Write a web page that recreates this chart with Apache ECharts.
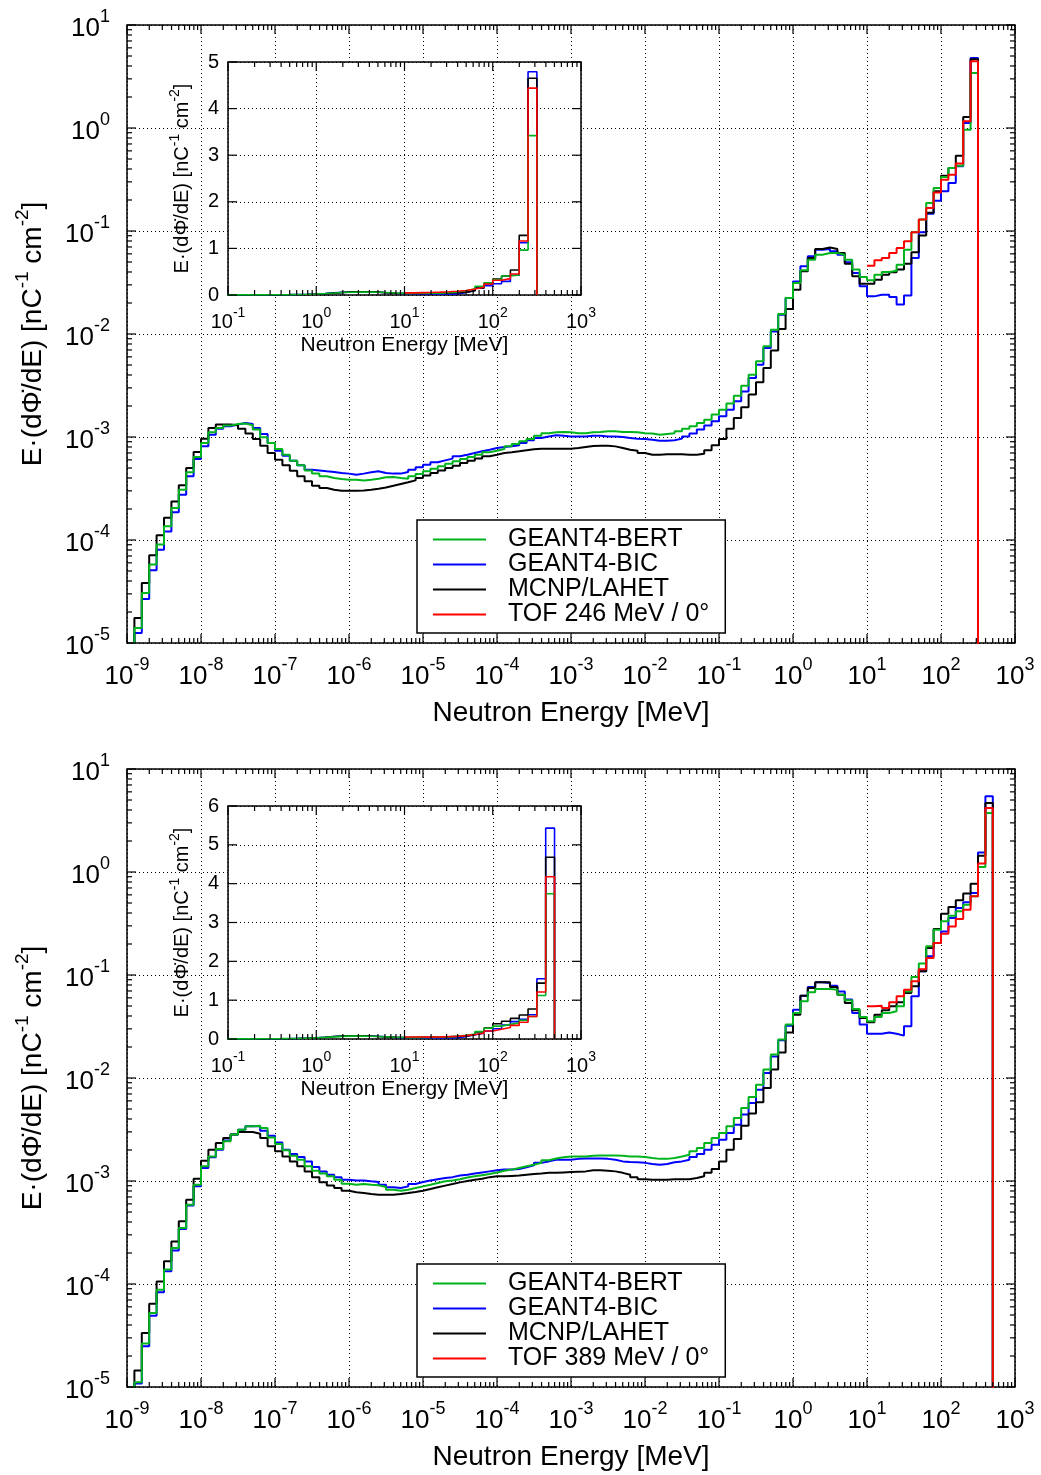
<!DOCTYPE html>
<html><head><meta charset="utf-8">
<script src="https://cdn.jsdelivr.net/npm/echarts@6/dist/echarts.min.js"></script>
<style>html,body{margin:0;padding:0;background:#fff}#c{width:1041px;height:1475px}</style>
</head><body><div id="c"></div>
<script>
// ---------- bins: 10 log-uniform bins per decade, edge k = 10^(-9 + k/10) ----------
const BIN_MANTISSA = [1, 1.2589, 1.5849, 1.9953, 2.5119, 3.1623, 3.9811, 5.0119, 6.3096, 7.9433];
const BIN_DECADES = [-9, -8, -7, -6, -5, -4, -3, -2, -1, 0, 1, 2];

// ---------- top panel (246 MeV), values for bins k = 1 .. 114 ----------
const topBert = [
1.40e-5,3.05e-5,5.77e-5,9.02e-5,1.36e-4,2.05e-4,3.08e-4,4.54e-4,6.40e-4,8.75e-4,
1.11e-3,1.22e-3,1.29e-3,1.34e-3,1.35e-3,1.30e-3,1.18e-3,9.93e-4,8.75e-4,7.64e-4,
6.73e-4,5.89e-4,5.31e-4,4.74e-4,4.41e-4,4.15e-4,4.00e-4,3.91e-4,3.85e-4,3.85e-4,
3.79e-4,3.85e-4,3.94e-4,4.06e-4,4.09e-4,4.00e-4,3.94e-4,4.15e-4,4.38e-4,4.65e-4,
4.93e-4,5.19e-4,5.51e-4,5.81e-4,6.11e-4,6.40e-4,6.73e-4,7.10e-4,7.36e-4,7.64e-4,
8.11e-4,8.55e-4,9.08e-4,9.57e-4,1.03e-3,1.09e-3,1.11e-3,1.12e-3,1.11e-3,1.09e-3,
1.09e-3,1.11e-3,1.12e-3,1.14e-3,1.14e-3,1.12e-3,1.12e-3,1.11e-3,1.09e-3,1.08e-3,
1.05e-3,1.07e-3,1.09e-3,1.14e-3,1.20e-3,1.27e-3,1.37e-3,1.47e-3,1.65e-3,1.84e-3,
2.11e-3,2.52e-3,3.15e-3,4.03e-3,5.43e-3,7.59e-3,1.10e-2,1.56e-2,2.24e-2,3.13e-2,
4.15e-2,5.27e-2,5.89e-2,6.11e-2,6.11e-2,5.89e-2,5.27e-2,4.22e-2,3.57e-2,3.32e-2,
3.77e-2,4.00e-2,4.12e-2,4.71e-2,6.59e-2,9.71e-2,1.29e-1,1.87e-1,2.61e-1,3.34e-1,
4.09e-1,4.31e-1,0.964,3.42];
const topBic = [
1.25e-5,2.67e-5,5.08e-5,8.05e-5,1.21e-4,1.86e-4,2.75e-4,4.15e-4,6.11e-4,8.11e-4,
1.05e-3,1.20e-3,1.27e-3,1.32e-3,1.37e-3,1.34e-3,1.22e-3,1.07e-3,8.75e-4,7.36e-4,
6.59e-4,5.89e-4,5.31e-4,4.82e-4,4.74e-4,4.65e-4,4.57e-4,4.47e-4,4.41e-4,4.31e-4,
4.41e-4,4.54e-4,4.65e-4,4.47e-4,4.41e-4,4.41e-4,4.57e-4,4.82e-4,5.08e-4,5.38e-4,
5.68e-4,5.93e-4,6.17e-4,6.49e-4,6.73e-4,7.00e-4,7.26e-4,7.53e-4,7.82e-4,8.00e-4,
8.15e-4,8.30e-4,8.75e-4,9.29e-4,9.77e-4,1.01e-3,1.04e-3,1.03e-3,1.01e-3,1.01e-3,
1.01e-3,1.03e-3,1.03e-3,1.01e-3,1.01e-3,1.00e-3,9.77e-4,9.64e-4,9.57e-4,9.42e-4,
9.20e-4,9.20e-4,9.29e-4,9.64e-4,1.01e-3,1.08e-3,1.18e-3,1.29e-3,1.42e-3,1.59e-3,
1.84e-3,2.22e-3,2.77e-3,3.74e-3,5.04e-3,7.31e-3,1.06e-2,1.54e-2,2.24e-2,3.24e-2,
4.54e-2,5.68e-2,6.59e-2,6.68e-2,6.35e-2,5.89e-2,4.97e-2,3.91e-2,2.90e-2,2.32e-2,
2.41e-2,2.41e-2,2.29e-2,1.93e-2,2.36e-2,5.47e-2,9.71e-2,1.47e-1,1.97e-1,2.43e-1,
2.92e-1,4.25e-1,1.12,4.79];
const topMcnp = [
1.75e-5,3.83e-5,7.10e-5,1.11e-4,1.64e-4,2.37e-4,3.40e-4,5.00e-4,7.14e-4,9.64e-4,
1.22e-3,1.32e-3,1.32e-3,1.30e-3,1.20e-3,1.08e-3,9.57e-4,8.24e-4,7.00e-4,6.03e-4,
5.31e-4,4.71e-4,4.15e-4,3.72e-4,3.37e-4,3.20e-4,3.08e-4,3.01e-4,3.01e-4,3.01e-4,
3.03e-4,3.08e-4,3.15e-4,3.24e-4,3.37e-4,3.50e-4,3.63e-4,3.79e-4,4.00e-4,4.22e-4,
4.47e-4,4.74e-4,5.00e-4,5.27e-4,5.60e-4,5.89e-4,6.17e-4,6.49e-4,6.73e-4,7.00e-4,
7.10e-4,7.26e-4,7.43e-4,7.59e-4,7.71e-4,7.71e-4,7.71e-4,7.71e-4,7.71e-4,7.82e-4,
8.00e-4,8.18e-4,8.24e-4,8.24e-4,8.11e-4,7.82e-4,7.53e-4,7.36e-4,7.00e-4,6.73e-4,
6.73e-4,6.79e-4,6.79e-4,6.79e-4,6.73e-4,6.73e-4,6.89e-4,7.43e-4,8.30e-4,9.57e-4,
1.20e-3,1.53e-3,1.95e-3,2.58e-3,3.40e-3,4.68e-3,6.93e-3,1.12e-2,1.75e-2,2.69e-2,
4.06e-2,5.47e-2,6.68e-2,6.93e-2,6.68e-2,6.11e-2,4.82e-2,3.63e-2,3.08e-2,3.08e-2,
3.37e-2,3.77e-2,3.97e-2,4.22e-2,4.82e-2,6.21e-2,9.02e-2,1.50e-1,2.43e-1,3.44e-1,
4.09e-1,5.38e-1,1.28,4.65];
// TOF data for bins k = 100 .. 114
const topTof = [4.60e-2,5.19e-2,5.47e-2,6.11e-2,6.84e-2,7.94e-2,9.71e-2,1.29e-1,1.67e-1,2.37e-1,
3.15e-1,3.52e-1,4.51e-1,1.16,4.44];

// ---------- bottom panel (389 MeV), values for bins k = 1 .. 116 ----------
const botBert = [
1.11e-5,2.64e-5,5.22e-5,8.81e-5,1.38e-4,2.24e-4,3.50e-4,5.89e-4,9.20e-4,1.39e-3,
1.73e-3,2.05e-3,2.43e-3,2.82e-3,3.15e-3,3.40e-3,3.44e-3,3.27e-3,2.65e-3,2.29e-3,
1.99e-3,1.76e-3,1.61e-3,1.39e-3,1.26e-3,1.18e-3,1.11e-3,1.03e-3,9.42e-4,9.20e-4,
9.35e-4,9.20e-4,9.08e-4,8.75e-4,8.24e-4,8.05e-4,8.24e-4,8.55e-4,8.87e-4,9.20e-4,
9.57e-4,9.93e-4,1.01e-3,1.04e-3,1.08e-3,1.11e-3,1.14e-3,1.17e-3,1.21e-3,1.26e-3,
1.29e-3,1.34e-3,1.39e-3,1.44e-3,1.50e-3,1.59e-3,1.65e-3,1.70e-3,1.73e-3,1.73e-3,
1.73e-3,1.76e-3,1.77e-3,1.77e-3,1.77e-3,1.76e-3,1.73e-3,1.73e-3,1.71e-3,1.67e-3,
1.64e-3,1.64e-3,1.67e-3,1.73e-3,1.80e-3,1.94e-3,2.09e-3,2.34e-3,2.61e-3,2.92e-3,
3.40e-3,4.09e-3,5.12e-3,6.55e-3,8.61e-3,1.21e-2,1.69e-2,2.36e-2,3.30e-2,4.28e-2,
5.55e-2,6.79e-2,7.31e-2,7.31e-2,7.21e-2,6.44e-2,5.68e-2,4.68e-2,3.91e-2,3.55e-2,
3.91e-2,4.28e-2,4.44e-2,4.97e-2,6.93e-2,9.57e-2,1.29e-1,1.90e-1,2.75e-1,3.32e-1,
3.77e-1,4.15e-1,4.82e-1,5.81e-1,1.12,3.74];
const botBic = [
1.08e-5,2.48e-5,4.93e-5,8.30e-5,1.33e-4,2.12e-4,3.42e-4,5.77e-4,8.87e-4,1.34e-3,
1.70e-3,2.01e-3,2.47e-3,2.82e-3,3.15e-3,3.40e-3,3.40e-3,3.08e-3,2.75e-3,2.37e-3,
2.01e-3,1.83e-3,1.71e-3,1.55e-3,1.37e-3,1.24e-3,1.15e-3,1.09e-3,1.03e-3,1.01e-3,
1.01e-3,9.93e-4,9.77e-4,9.20e-4,8.69e-4,8.55e-4,8.87e-4,9.35e-4,9.77e-4,1.01e-3,
1.04e-3,1.07e-3,1.09e-3,1.13e-3,1.15e-3,1.18e-3,1.21e-3,1.24e-3,1.27e-3,1.29e-3,
1.29e-3,1.31e-3,1.36e-3,1.42e-3,1.50e-3,1.55e-3,1.61e-3,1.61e-3,1.61e-3,1.64e-3,
1.65e-3,1.65e-3,1.65e-3,1.64e-3,1.61e-3,1.55e-3,1.53e-3,1.52e-3,1.50e-3,1.46e-3,
1.44e-3,1.46e-3,1.52e-3,1.55e-3,1.61e-3,1.71e-3,1.83e-3,2.01e-3,2.25e-3,2.52e-3,
2.92e-3,3.52e-3,4.41e-3,5.71e-3,7.71e-3,1.12e-2,1.62e-2,2.32e-2,3.22e-2,4.60e-2,
6.30e-2,7.64e-2,8.49e-2,8.36e-2,7.87e-2,6.93e-2,5.77e-2,4.28e-2,3.30e-2,2.69e-2,
2.69e-2,2.77e-2,2.69e-2,2.58e-2,3.18e-2,6.21e-2,1.09e-1,1.52e-1,2.05e-1,2.65e-1,
3.57e-1,4.47e-1,5.08e-1,6.25e-1,1.55,5.43];
const botMcnp = [
1.45e-5,3.34e-5,6.44e-5,1.06e-4,1.66e-4,2.59e-4,4.06e-4,6.59e-4,1.05e-3,1.57e-3,
2.01e-3,2.34e-3,2.61e-3,2.82e-3,2.99e-3,2.99e-3,2.88e-3,2.61e-3,2.17e-3,1.94e-3,
1.73e-3,1.55e-3,1.39e-3,1.24e-3,1.09e-3,9.70e-4,9.02e-4,8.55e-4,8.05e-4,7.76e-4,
7.64e-4,7.48e-4,7.36e-4,7.36e-4,7.36e-4,7.48e-4,7.64e-4,7.82e-4,8.05e-4,8.36e-4,
8.69e-4,9.02e-4,9.35e-4,9.70e-4,1.00e-3,1.03e-3,1.05e-3,1.09e-3,1.11e-3,1.11e-3,
1.12e-3,1.13e-3,1.15e-3,1.17e-3,1.18e-3,1.20e-3,1.20e-3,1.21e-3,1.22e-3,1.23e-3,
1.24e-3,1.27e-3,1.27e-3,1.26e-3,1.24e-3,1.20e-3,1.15e-3,1.09e-3,1.04e-3,1.03e-3,
1.03e-3,1.03e-3,1.04e-3,1.04e-3,1.04e-3,1.07e-3,1.11e-3,1.20e-3,1.31e-3,1.55e-3,
2.01e-3,2.56e-3,3.44e-3,4.51e-3,5.81e-3,8.00e-3,1.21e-2,1.77e-2,2.77e-2,4.12e-2,
6.30e-2,7.48e-2,8.49e-2,8.49e-2,7.64e-2,6.44e-2,5.35e-2,4.54e-2,3.83e-2,3.47e-2,
4.12e-2,4.54e-2,4.97e-2,5.43e-2,6.68e-2,7.76e-2,1.09e-1,1.83e-1,2.80e-1,3.94e-1,
4.57e-1,5.31e-1,6.17e-1,7.71e-1,1.44,4.68];
// TOF data for bins k = 100 .. 116
const botTof = [4.97e-2,5.04e-2,4.79e-2,5.43e-2,6.21e-2,7.21e-2,8.69e-2,1.14e-1,1.46e-1,2.05e-1,
2.52e-1,2.96e-1,3.50e-1,4.31e-1,5.81e-1,1.21,4.18];

const FIRST_MC_BIN = 1, FIRST_TOF_BIN = 100;
const FLOOR = 1e-7; // below the plotted range (zero flux)

// ---------- axis tick values ----------
const mainXMajor = [1e-9,1e-8,1e-7,1e-6,1e-5,1e-4,1e-3,1e-2,1e-1,1,1e1,1e2,1e3];
const mainYMajor = [1e-5,1e-4,1e-3,1e-2,1e-1,1,1e1];
const insetXMajor = [1e-1,1,1e1,1e2,1e3];
const insetYMajorTop = [0,1,2,3,4,5];
const insetYMajorBot = [0,1,2,3,4,5,6];
const MINOR_MANT = [2,3,4,5,6,7,8,9];

const NAMES = ['GEANT4-BERT','GEANT4-BIC','MCNP/LAHET'];
const TOF_TOP = 'TOF 246 MeV / 0°', TOF_BOT = 'TOF 389 MeV / 0°';
const COL = {bert:'#00b41e', bic:'#0000ff', mcnp:'#000000', tof:'#ff0000'};
const FONT = 'Liberation Sans, Arial, Helvetica, sans-serif';

const binEdges = [];
BIN_DECADES.forEach(d => BIN_MANTISSA.forEach(m => binEdges.push(m * Math.pow(10, d))));

function stepData(vals, firstBin, lead) {
  const pts = [];
  if (lead) pts.push([binEdges[firstBin - 1], FLOOR]);
  vals.forEach((v, i) => pts.push([binEdges[firstBin + i], v]));
  pts.push([binEdges[firstBin + vals.length], FLOOR]);
  return pts;
}
function minorOf(majors) {
  const out = [];
  for (let i = 0; i < majors.length - 1; i++) MINOR_MANT.forEach(m => out.push(m * majors[i]));
  return out;
}
const powLabel = v => '{b|10}{s|' + Math.round(Math.log10(v)) + '}';

const mainRich = {
  b: {fontSize: 26, lineHeight: 34, verticalAlign: 'bottom', fontFamily: FONT, color: '#000'},
  s: {fontSize: 18, lineHeight: 18, verticalAlign: 'top', fontFamily: FONT, color: '#000'}
};
const insetRich = {
  b: {fontSize: 20, lineHeight: 26, verticalAlign: 'bottom', fontFamily: FONT, color: '#000'},
  s: {fontSize: 14, lineHeight: 14, verticalAlign: 'top', fontFamily: FONT, color: '#000'}
};
const YNAME = '{t|E·(dΦ\u0307/dE) [nC}{u|-1}{t| cm}{u|-2}{t|]}';
const splitLine = {show: true, lineStyle: {color: '#000', width: 1, type: [1, 3]}};

const grids = [
  {left: 127, top: 25, width: 888, height: 618, show: true, borderColor: '#000', borderWidth: 1.5, backgroundColor: 'transparent'},
  {left: 127, top: 769, width: 888, height: 618, show: true, borderColor: '#000', borderWidth: 1.5, backgroundColor: 'transparent'},
  {left: 228, top: 62, width: 353, height: 233, show: true, borderColor: '#000', borderWidth: 1.5, backgroundColor: '#fff', z: 5},
  {left: 228, top: 806, width: 353, height: 233, show: true, borderColor: '#000', borderWidth: 1.5, backgroundColor: '#fff', z: 5}
];

function mainX(g) {
  return {type: 'log', logBase: 10, gridIndex: g, min: 1e-9, max: 1e3, interval: 1, splitNumber: 20,
    position: 'bottom', axisLine: {show: false, onZero: false}, axisTick: {show: false}, splitLine,
    axisLabel: {margin: 13, formatter: powLabel, rich: mainRich, showMinLabel: true, showMaxLabel: true, hideOverlap: false},
    name: 'Neutron Energy [MeV]', nameLocation: 'middle', nameGap: 55,
    nameTextStyle: {fontSize: 28, fontFamily: FONT, color: '#000', lineHeight: 30}};
}
function mainY(g) {
  return {type: 'log', logBase: 10, gridIndex: g, min: 1e-5, max: 1e1, interval: 1, splitNumber: 20,
    position: 'left', axisLine: {show: false, onZero: false}, axisTick: {show: false}, splitLine,
    axisLabel: {margin: 17, formatter: powLabel, rich: mainRich, showMinLabel: true, showMaxLabel: true, hideOverlap: false},
    name: YNAME, nameLocation: 'middle', nameGap: 80, nameRotate: 90,
    nameTextStyle: {rich: {
      t: {fontSize: 28, lineHeight: 34, verticalAlign: 'bottom', fontFamily: FONT, color: '#000'},
      u: {fontSize: 19, lineHeight: 20, verticalAlign: 'top', fontFamily: FONT, color: '#000'}}}};
}
function insetX(g) {
  return {type: 'log', logBase: 10, gridIndex: g, min: 0.1, max: 1000, interval: 1, splitNumber: 20, z: 6,
    position: 'bottom', axisLine: {show: false, onZero: false}, axisTick: {show: false}, splitLine,
    axisLabel: {margin: 11, formatter: powLabel, rich: insetRich, showMinLabel: true, showMaxLabel: true, hideOverlap: false},
    name: 'Neutron Energy [MeV]', nameLocation: 'middle', nameGap: 36,
    nameTextStyle: {fontSize: 21, fontFamily: FONT, color: '#000', lineHeight: 24}};
}
function insetY(g, max) {
  return {type: 'value', gridIndex: g, min: 0, max, interval: 1, z: 6,
    position: 'left', axisLine: {show: false, onZero: false}, axisTick: {show: false}, splitLine,
    axisLabel: {margin: 9, fontSize: 20, fontFamily: FONT, color: '#000', showMinLabel: true, showMaxLabel: true},
    name: YNAME, nameLocation: 'middle', nameGap: 36, nameRotate: 90,
    nameTextStyle: {rich: {
      t: {fontSize: 20, lineHeight: 24, verticalAlign: 'bottom', fontFamily: FONT, color: '#000'},
      u: {fontSize: 14, lineHeight: 14, verticalAlign: 'top', fontFamily: FONT, color: '#000'}}}};
}

function line(name, color, data, ai, z, width) {
  return {type: 'line', name, data, xAxisIndex: ai, yAxisIndex: ai, step: 'end', symbol: 'none', showSymbol: false,
    color, lineStyle: {color, width}, itemStyle: {color}, z, silent: true, animation: false, clip: true};
}
function panelSeries(ai, bert, bic, mcnp, tof, tofName, zBase, width) {
  return [
    line(NAMES[1], COL.bic, stepData(bic, FIRST_MC_BIN, true), ai, zBase, width),
    line(NAMES[2], COL.mcnp, stepData(mcnp, FIRST_MC_BIN, true), ai, zBase + 1, width),
    line(NAMES[0], COL.bert, stepData(bert, FIRST_MC_BIN, true), ai, zBase + 2, width),
    line(tofName, COL.tof, stepData(tof, FIRST_TOF_BIN, false), ai, zBase + 3, width)
  ];
}

const tickStyle = {stroke: '#000', lineWidth: 1.2};
function xTickRender(params, api) {
  const cs = params.coordSys;
  const x = api.coord([api.value(0), api.value(1)])[0];
  const len = api.value(2);
  return {type: 'group', children: [
    {type: 'line', shape: {x1: x, y1: cs.y + cs.height, x2: x, y2: cs.y + cs.height - len}, style: tickStyle},
    {type: 'line', shape: {x1: x, y1: cs.y, x2: x, y2: cs.y + len}, style: tickStyle}]};
}
function yTickRender(params, api) {
  const cs = params.coordSys;
  const y = api.coord([api.value(0), api.value(1)])[1];
  const len = api.value(2);
  return {type: 'group', children: [
    {type: 'line', shape: {x1: cs.x, y1: y, x2: cs.x + len, y2: y}, style: tickStyle},
    {type: 'line', shape: {x1: cs.x + cs.width, y1: y, x2: cs.x + cs.width - len, y2: y}, style: tickStyle}]};
}
function tickSeries(ai, xMaj, xMin, yMaj, yMin, refX, refY) {
  const xd = xMaj.map(v => [v, refY, 9]).concat(xMin.map(v => [v, refY, 5]));
  const yd = yMaj.map(v => [refX, v, 9]).concat(yMin.map(v => [refX, v, 5]));
  return [
    {type: 'custom', xAxisIndex: ai, yAxisIndex: ai, renderItem: xTickRender, data: xd, z: 12, silent: true, clip: false, animation: false},
    {type: 'custom', xAxisIndex: ai, yAxisIndex: ai, renderItem: yTickRender, data: yd, z: 12, silent: true, clip: false, animation: false}
  ];
}

function legend(top, tofName) {
  return {data: NAMES.concat([tofName]), orient: 'vertical', left: 417, top, icon: 'rect', itemWidth: 53, itemHeight: 2, itemGap: 0,
    padding: [7, 16, 6, 16], borderColor: '#000', borderWidth: 1.5, borderRadius: 0, backgroundColor: '#fff',
    selectedMode: false, z: 20,
    textStyle: {fontSize: 25, fontFamily: FONT, color: '#000', lineHeight: 25, padding: [0, 0, 0, 17]}};
}

const option = {
  animation: false,
  backgroundColor: '#fff',
  grid: grids,
  xAxis: [mainX(0), mainX(1), insetX(2), insetX(3)],
  yAxis: [mainY(0), mainY(1), insetY(2, 5), insetY(3, 6)],
  legend: [legend(520, TOF_TOP), legend(1264, TOF_BOT)],
  series: [].concat(
    panelSeries(0, topBert, topBic, topMcnp, topTof, TOF_TOP, 2, 2),
    panelSeries(1, botBert, botBic, botMcnp, botTof, TOF_BOT, 2, 2),
    panelSeries(2, topBert, topBic, topMcnp, topTof, TOF_TOP, 7, 1.6),
    panelSeries(3, botBert, botBic, botMcnp, botTof, TOF_BOT, 7, 1.6),
    tickSeries(0, mainXMajor, minorOf(mainXMajor), mainYMajor, minorOf(mainYMajor), 1, 1e-3),
    tickSeries(1, mainXMajor, minorOf(mainXMajor), mainYMajor, minorOf(mainYMajor), 1, 1e-3),
    tickSeries(2, insetXMajor, minorOf(insetXMajor), insetYMajorTop, [], 1, 1),
    tickSeries(3, insetXMajor, minorOf(insetXMajor), insetYMajorBot, [], 1, 1)
  )
};
const chart = echarts.init(document.getElementById('c'));
chart.setOption(option);
</script>
</body></html>
